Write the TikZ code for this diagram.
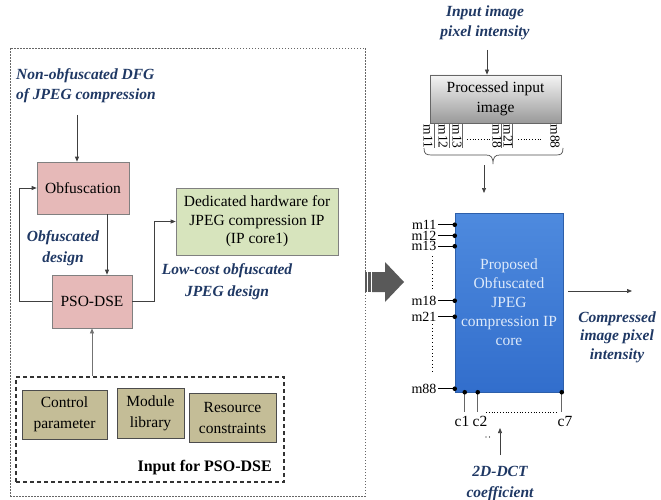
\documentclass[tikz,border=0pt]{standalone}
\usepackage{fontspec}
\setmainfont{Liberation Serif}
\usetikzlibrary{calc,arrows.meta}
\definecolor{navy}{RGB}{31,56,100}
\definecolor{pinkf}{RGB}{230,185,184}
\definecolor{greenf}{RGB}{215,228,189}
\definecolor{khakif}{RGB}{196,189,151}
\definecolor{bluetop}{RGB}{78,138,222}
\definecolor{bluebot}{RGB}{50,110,204}
\definecolor{blueedge}{RGB}{45,95,170}
\definecolor{bluetext}{RGB}{222,234,250}
\begin{document}
\begin{tikzpicture}[x=1pt,y=-1pt,
  box/.style={draw=black!50, line width=0.7pt, align=center, inner sep=0pt,
    font=\fontsize{15.5}{18.5}\selectfont},
  pinkbox/.style={box, fill=pinkf},
  greenbox/.style={box, fill=greenf},
  khakibox/.style={box, fill=khakif, draw=black!70, font=\fontsize{15.5}{21}\selectfont},
  lbl/.style={text=navy, align=center, inner sep=0pt,
    font=\fontsize{15.5}{20.5}\selectfont\bfseries\itshape},
  arr/.style={-{Triangle[length=5pt,width=4pt]}, draw=black!75, line width=0.7pt},
  pinwire/.style={draw=black, line width=0.6pt},
  pinlbl/.style={inner sep=1pt, font=\fontsize{14}{14}\selectfont},
  vlbl/.style={inner sep=0pt, rotate=-90, anchor=west, font=\fontsize{13.5}{13.5}\selectfont},
  dotline/.style={draw=black, line width=1pt, dash pattern=on 1pt off 2.6pt}
]
\useasboundingbox (0,0) rectangle (661,500);

% ---------- design flow (left panel) ----------
\node[draw=black!60, line width=0.6pt, dash pattern=on 1.5pt off 1.5pt,
      minimum width=355, minimum height=448, inner sep=0pt] (outer) at (187.5,272) {};

\node[lbl, align=left, anchor=west] (nonobf) at (16,85.5) {Non-obfuscated DFG\\of JPEG compression};
\node[pinkbox, minimum width=92, minimum height=52] (obf) at (83,188) {Obfuscation};
\node[greenbox, minimum width=162, minimum height=67] (ded) at (257,221.5)
  {Dedicated hardware for\\JPEG compression IP\\(IP core1)};
\node[pinkbox, minimum width=80, minimum height=53] (pso) at (92,301.5) {PSO-DSE};
\node[lbl] (obfd) at (63,248) {Obfuscated\\design};
\node[lbl, font=\fontsize{15.5}{22}\selectfont\bfseries\itshape] (lowcost) at (227,282)
  {Low-cost obfuscated\\JPEG design};

\coordinate (src) at (77,115);
\draw[arr] (src) -- (src |- obf.north);
\coordinate (vdown) at (107,0);
\draw[arr] (vdown |- obf.south) -- (vdown |- pso.north);
\draw[arr] (pso.west) -- ++(-32,0) |- (obf.west);
\draw[arr] (pso.east) -- ++(22,0) |- (ded.west);

% inputs of the optimiser
\node[draw=black!80, line width=1.2pt, dash pattern=on 4pt off 3pt,
      minimum width=268, minimum height=105, inner sep=0pt] (inbox) at (150,429.5) {};
\node[khakibox, minimum width=85, minimum height=49] (ctrl) at (64.5,414.5) {Control\\parameter};
\node[khakibox, minimum width=67, minimum height=50] (modl) at (150.5,413) {Module\\library};
\node[khakibox, minimum width=87, minimum height=49] (res) at (232.5,417.5) {Resource\\constraints};
\node[anchor=east, inner sep=0pt, font=\fontsize{16}{19}\selectfont\bfseries] (inlbl) at (272,468)
  {Input for PSO-DSE};
\draw[arr, draw=black!55] (pso.south |- inbox.north) -- (pso.south);

% ---------- block arrow ----------
\fill[black!65] (372,272) -- (385,272) -- (385,262) -- (404,282) -- (385,302)
  -- (385,292) -- (372,292) -- cycle;
\fill[black!65] (364.5,272) rectangle (366.5,292);
\fill[black!65] (368,272) rectangle (370.5,292);

% ---------- IP core (right panel) ----------
\node[lbl, font=\fontsize{15.5}{20}\selectfont\bfseries\itshape] (inimg) at (485,23)
  {Input image\\pixel intensity};
\node[box, draw=black!60, top color=black!4, bottom color=black!40,
      minimum width=131, minimum height=48, font=\fontsize{15.5}{20}\selectfont] (proc) at (495.5,99)
  {Processed input\\image};
\coordinate (pin) at (487,50);
\draw[arr] (pin) -- (pin |- proc.north);

% output pins of the input stage
\foreach \dx in {5,20,33,72,83}
  \draw[pinwire, draw=black!60] ($(proc.south west)+(\dx,0)$) -- ++(0,25);
\foreach \lab/\xx in {m11/428,m12/443,m13/457,m18/497,m21/508,m88/555}
  \node[vlbl] at (\xx,124.5) {\lab};
\draw[dotline, line width=0.7pt, dash pattern=on 0.8pt off 2pt] (467,139) -- (492,139);
\draw[dotline, line width=0.7pt, dash pattern=on 0.8pt off 2pt] (518,139) -- (543,139);
\draw[black!70, line width=0.7pt] (424,148) .. controls (424,154) and (426,155) .. (432,155)
  -- (486,155) .. controls (491,155) and (493,157) .. (493,164)
  .. controls (493,157) and (495,155) .. (500,155)
  -- (556,155) .. controls (561,155) and (563,154) .. (563,148);
\coordinate (bt) at (484,165);
\coordinate (bb) at (484,193);
\draw[arr] (bt) -- (bb);

\node[draw=blueedge, line width=0.5pt, top color=bluetop, bottom color=bluebot,
      minimum width=108, minimum height=179, inner sep=0pt, align=center,
      text=bluetext, font=\fontsize{15.5}{19}\selectfont] (core) at (509,302.5)
  {Proposed\\Obfuscated\\JPEG\\compression IP\\core};

% pixel input pins
\foreach \lab/\dy in {m11/12,m12/23,m13/33.5,m18/88,m21/104,m88/176}{
  \draw[pinwire] ($(core.north west)+(0,\dy)$) coordinate (p) -- ++(-17,0)
    node[pinlbl, anchor=east, text height=7.5pt, text depth=0pt, yshift=-0.5pt] {\lab};
  \fill (p) circle (2.3);
}
\draw[dotline] (432,256) -- (432,290);
\draw[dotline] (432,324) -- (432,374);

% coefficient pins
\foreach \lab/\dx/\lx in {c1/10/462,c2/23/480,c7/107/565}{
  \draw[pinwire, draw=black!60] ($(core.south west)+(\dx,0)$) coordinate (q) -- ++(0,20);
  \fill (q) circle (2.3);
  \node[pinlbl, font=\fontsize{15.5}{15.5}\selectfont] at (\lx,421) {\lab};
}
\draw[dotline, line width=0.7pt, dash pattern=on 0.8pt off 2pt] (486,412) -- (558,412);
\fill (486,437) circle (0.6) (489.5,437) circle (0.6);

\coordinate (ct) at (500,455);
\coordinate (cb) at (500,428);
\draw[arr] (ct) -- (cb);
\node[lbl, font=\fontsize{15.5}{21}\selectfont\bfseries\itshape] (dct) at (500,484)
  {2D-DCT\\coefficient};

\coordinate (o1) at (568,291);
\coordinate (o2) at (632,291);
\draw[arr] (o1) -- (o2);
\node[lbl, font=\fontsize{15.5}{18.5}\selectfont\bfseries\itshape] (cmp) at (617,337)
  {Compressed\\image pixel\\intensity};
\end{tikzpicture}
\end{document}
